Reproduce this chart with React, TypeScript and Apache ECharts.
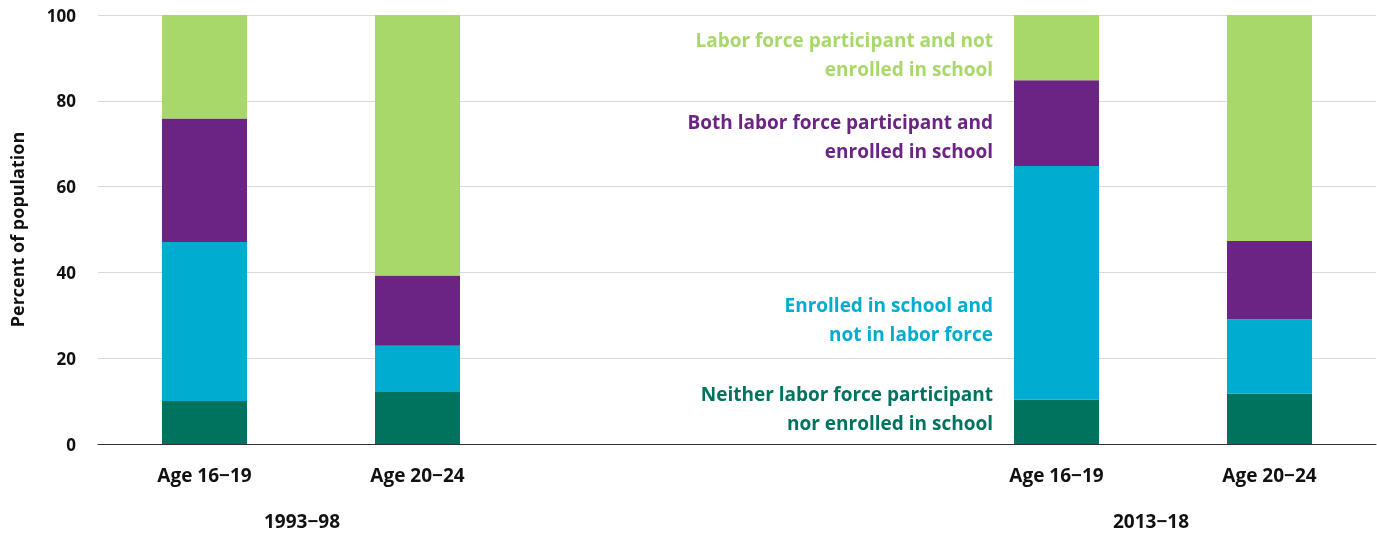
import { useEffect, useRef } from "react";
import * as echarts from "echarts";

const categories = ["Age 16\u221219", "Age 20\u221224", "", "", "Age 16\u221219", "Age 20\u221224"];
const neither = [10, 12.1, null, null, 10.3, 11.7];
const enrolledOnly = [37.1, 10.8, null, null, 54.5, 17.4];
const both = [28.8, 16.4, null, null, 20, 18.2];
const laborOnly = [24.1, 60.7, null, null, 15.2, 52.7];
const periods = ["1993\u221298", "2013\u221218"];

const FONT = "'Open Sans', 'Noto Sans', sans-serif";
const C = { dark: "#00735f", blue: "#00acd0", purple: "#6c2484", light: "#a8d86a" };

export default function App() {
  const ref = useRef<HTMLDivElement>(null);

  useEffect(() => {
    if (!ref.current) return;
    const chart = echarts.init(ref.current, undefined, { renderer: "svg" });
    const bar = (name: string, data: (number | null)[], color: string) => ({
      name,
      type: "bar",
      stack: "total",
      barWidth: 85,
      data,
      itemStyle: { color },
    });
    const label = (lines: string[], y: number, color: string) =>
      lines.map((t, i) => ({
        type: "text",
        right: 384,
        top: y + i * 29,
        style: { text: t, fill: color, font: `bold 19px ${FONT}`, textAlign: "right" },
      }));
    chart.setOption({
      animation: false,
      grid: { left: 98, right: 1, top: 15, bottom: 92 },
      xAxis: {
        type: "category",
        data: categories,
        axisTick: { show: false },
        axisLine: { lineStyle: { color: "#333", width: 1 } },
        axisLabel: { color: "#111", fontWeight: "bold", fontSize: 19, fontFamily: FONT, margin: 21 },
      },
      yAxis: {
        type: "value",
        min: 0,
        max: 100,
        interval: 20,
        name: "Percent of population",
        nameLocation: "middle",
        nameGap: 72,
        nameTextStyle: { color: "#111", fontWeight: "bold", fontSize: 18, fontFamily: FONT },
        axisLabel: { color: "#111", fontWeight: "bold", fontSize: 17, fontFamily: FONT, margin: 22 },
        splitLine: { lineStyle: { color: "#d9d9d9" } },
      },
      series: [
        bar("Neither", neither, C.dark),
        bar("Enrolled only", enrolledOnly, C.blue),
        bar("Both", both, C.purple),
        bar("Labor only", laborOnly, C.light),
      ],
      graphic: [
        { type: "text", left: 264, top: 511, style: { text: periods[0], fill: "#111", font: `bold 19px ${FONT}` } },
        { type: "text", left: 1113, top: 511, style: { text: periods[1], fill: "#111", font: `bold 19px ${FONT}` } },
        ...label(["Labor force participant and not", "enrolled in school"], 30, C.light),
        ...label(["Both labor force participant and", "enrolled in school"], 112, C.purple),
        ...label(["Enrolled in school and", "not in labor force"], 295, C.blue),
        ...label(["Neither labor force participant", "nor enrolled in school"], 384, C.dark),
      ],
    });
    return () => chart.dispose();
  }, []);

  return <div ref={ref} style={{ position: "fixed", left: 0, top: 0, width: 1377, height: 536 }} />;
}
